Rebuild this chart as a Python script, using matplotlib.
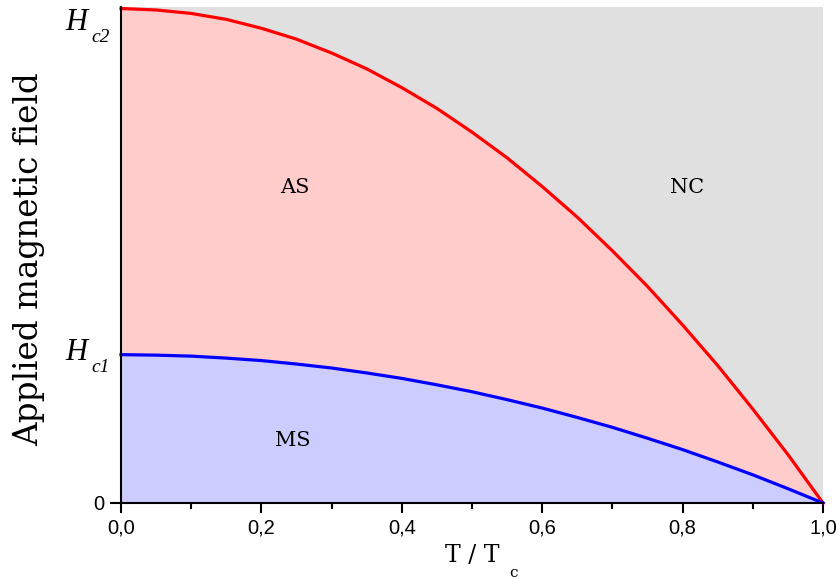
import matplotlib
matplotlib.use("Agg")
import matplotlib.pyplot as plt
from matplotlib.ticker import MultipleLocator

# reduced temperature T/Tc
t = [0.00, 0.05, 0.10, 0.15, 0.20, 0.25, 0.30, 0.35, 0.40, 0.45, 0.50,
     0.55, 0.60, 0.65, 0.70, 0.75, 0.80, 0.85, 0.90, 0.95, 1.00]
# upper critical field (units of Hc2)
hc2 = [1.000, 0.997, 0.990, 0.978, 0.960, 0.938, 0.910, 0.878, 0.840, 0.798, 0.750,
       0.698, 0.640, 0.578, 0.510, 0.438, 0.360, 0.278, 0.190, 0.098, 0.000]
# lower critical field (units of Hc2)
hc1 = [0.300, 0.299, 0.297, 0.293, 0.288, 0.281, 0.273, 0.263, 0.252, 0.239, 0.225,
       0.209, 0.192, 0.173, 0.153, 0.131, 0.108, 0.083, 0.057, 0.029, 0.000]

xticks = [0.0, 0.2, 0.4, 0.6, 0.8, 1.0]
xticklabels = ["0,0", "0,2", "0,4", "0,6", "0,8", "1,0"]
field_marks = [("c1", hc1[0], 5), ("c2", hc2[0], 22)]   # (subscript, value, baseline shift px)
regions = [("AS", 0.248, 0.638), ("NC", 0.806, 0.638), ("MS", 0.245, 0.127)]

W, H = 838, 579
fig = plt.figure(figsize=(W / 100, H / 100), dpi=100)
ax = fig.add_axes([121 / W, 76 / H, 702 / W, 496 / H])
ax.set_facecolor("#e0e0e0")

ax.fill_between(t, 0, hc1, color="#ccccff", lw=0)
ax.fill_between(t, hc1, hc2, color="#ffcccc", lw=0)
ax.plot(t, hc2, color="#ff0000", lw=2.3, clip_on=False, zorder=3)
ax.plot(t, hc1, color="#0000ff", lw=2.3, clip_on=False, zorder=3)

ax.set_xlim(0, 1)
ax.set_ylim(0, 1.003)

for s in ["top", "right"]:
    ax.spines[s].set_visible(False)
for s in ["left", "bottom"]:
    ax.spines[s].set_linewidth(1.5)
    ax.spines[s].set_zorder(4)

ax.set_xticks(xticks)
ax.set_xticklabels(xticklabels, family="Liberation Sans", fontsize=14.5)
ax.xaxis.set_minor_locator(MultipleLocator(0.1))
ax.tick_params(axis="x", which="major", direction="out", length=7, width=1.5, pad=4)
ax.tick_params(axis="x", which="minor", direction="out", length=4, width=1.5)

ax.set_yticks([0])
ax.set_yticklabels(["0"], family="Liberation Sans", fontsize=14.5)
ax.tick_params(axis="y", direction="out", length=8, width=1.5, pad=4)

# H_c1 / H_c2 labels on the field axis
for sub, val, shift in field_marks:
    ypix = ax.transData.transform((0, val))[1]
    base = (ypix - shift) / H
    fig.text(87 / W, base, "H", family="Liberation Serif", style="italic",
             fontsize=22, ha="right", va="baseline")
    fig.text(91 / W, base - 12 / H, sub, family="Liberation Serif", style="italic",
             fontsize=14, ha="left", va="baseline")

for name, x, y in regions:
    ax.text(x, y, name, family="DejaVu Serif", fontsize=15, ha="center", va="center")

fig.text(29 / W, 1 - 259 / H, "Applied magnetic field", family="DejaVu Serif",
         fontsize=23.5, rotation=90, ha="center", va="center")
fig.text(445 / W, 1 - 562 / H, "T / T", family="DejaVu Serif",
         fontsize=17, ha="left", va="baseline")
fig.text(509 / W, 1 - 577 / H, "c", family="DejaVu Serif",
         fontsize=11, ha="left", va="baseline")

fig.savefig("out.png", dpi=100)
